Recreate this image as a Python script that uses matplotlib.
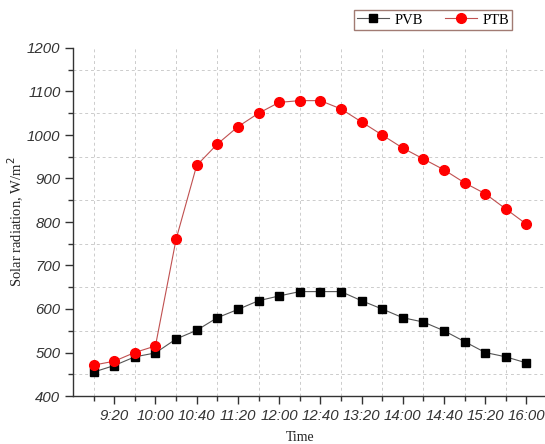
import matplotlib
matplotlib.use("Agg")
import matplotlib.pyplot as plt
from matplotlib.ticker import FixedLocator

# minutes after 9:00, every 20 min from 9:00 to 16:00
times = list(range(0, 421, 20))
pvb = [455, 470, 490, 499, 531, 551, 580, 599, 619, 630, 640, 640, 640,
       619, 600, 580, 570, 550, 525, 500, 490, 476]
ptb = [471, 480, 500, 515, 760, 930, 979, 1019, 1050, 1075, 1079, 1079, 1060,
       1030, 1000, 970, 945, 920, 890, 865, 830, 795]
tick_labels = ["9:20", "10:00", "10:40", "11:20", "12:00", "12:40", "13:20",
               "14:00", "14:40", "15:20", "16:00"]
tick_pos = list(range(20, 421, 40))
minor_pos = list(range(0, 401, 40))

fig = plt.figure(figsize=(5.45, 4.44), dpi=100)
ax = fig.add_axes([73/545, 48/444, (545-73)/545, 348/444])

ax.plot(times, pvb, color="#555555", lw=0.8, marker="s", ms=5.2,
        mfc="black", mec="black", label="PVB", zorder=3)
ax.plot(times, ptb, color="#c05050", lw=0.8, marker="o", ms=7,
        mfc="red", mec="red", label="PTB", zorder=3)

ax.set_xlim(-20, 438)
ax.set_ylim(400, 1200)
ax.xaxis.set_major_locator(FixedLocator(tick_pos))
ax.set_xticklabels(tick_labels)
ax.xaxis.set_minor_locator(FixedLocator(minor_pos))
ax.set_yticks(list(range(400, 1201, 100)))
ax.yaxis.set_minor_locator(FixedLocator(list(range(450, 1200, 100))))

for s in ["top", "right"]:
    ax.spines[s].set_visible(False)
for s in ["left", "bottom"]:
    ax.spines[s].set_linewidth(1.0)
    ax.spines[s].set_color("#333333")

ax.grid(True, which="minor", linestyle=(0, (3, 3)), color="#cccccc", lw=0.7)
ax.grid(False, which="major")
ax.tick_params(which="major", direction="out", length=6, width=1.0, color="#333333")
ax.tick_params(which="minor", direction="out", length=3.5, width=1.0, color="#333333")
for lab in ax.get_xticklabels() + ax.get_yticklabels():
    lab.set_fontfamily("Liberation Sans")
    lab.set_fontstyle("italic")
    lab.set_fontsize(10.8)
    lab.set_color("#333333")
ax.tick_params(axis="x", pad=3)
ax.tick_params(axis="y", pad=3)

fig.text(300/545, 1 - 437/444, "Time", family="Liberation Serif", fontsize=10,
         color="#222222", ha="center", va="center")
ax.set_ylabel("Solar radiation, W/m$^2$", family="Liberation Serif",
              fontsize=10.5, color="#222222")
ax.yaxis.set_label_coords(-0.100, 0.5)

leg = fig.legend(loc="center", bbox_to_anchor=(433/545, 1 - 20/444), ncol=2,
                 frameon=True, fancybox=False, prop={"family": "Liberation Serif", "size": 10.5},
                 handlelength=2.2, columnspacing=1.5, borderpad=0.2,
                 handletextpad=0.4)
leg.get_frame().set_edgecolor("#8a5a50")
leg.get_frame().set_linewidth(1.0)

fig.savefig("out.png", dpi=100)
